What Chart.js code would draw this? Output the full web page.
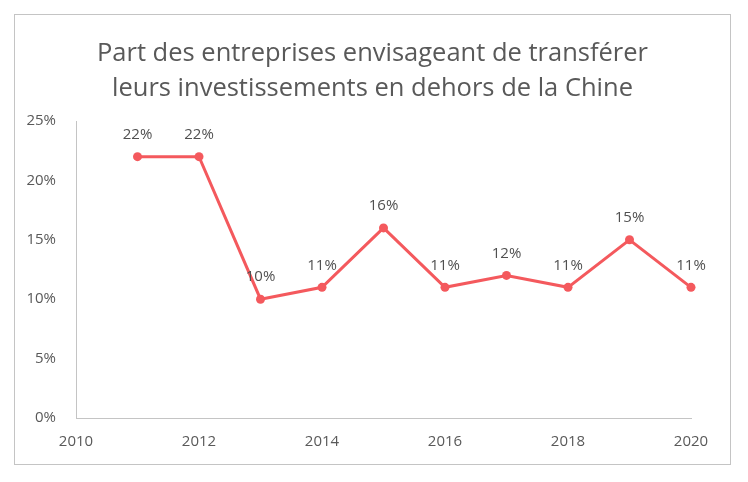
<!DOCTYPE html>
<html>
<head>
<meta charset="utf-8">
<script src="https://cdn.jsdelivr.net/npm/chart.js@4/dist/chart.umd.min.js"></script>
<style>
html,body{margin:0;padding:0;background:#fff;}
#wrap{position:relative;width:748px;height:482px;}
</style>
</head>
<body>
<div id="wrap"><canvas id="c" width="748" height="482"></canvas></div>
<script>
const titleLines = ["Part des entreprises envisageant de transférer", "leurs investissements en dehors de la Chine"];
const years = [2011, 2012, 2013, 2014, 2015, 2016, 2017, 2018, 2019, 2020];
const shares = [22, 22, 10, 11, 16, 11, 12, 11, 15, 11];
const xTicks = [2010, 2012, 2014, 2016, 2018, 2020];
const yTicks = [0, 5, 10, 15, 20, 25];

const FONT = "'Open Sans', 'DejaVu Sans', sans-serif";
const GRAY = '#595959';
const LINE = '#F4595D';

const frame = {
  id: 'frame',
  beforeDraw(chart) {
    const ctx = chart.ctx;
    ctx.save();
    ctx.fillStyle = '#fff';
    ctx.fillRect(0, 0, chart.width, chart.height);
    ctx.strokeStyle = '#c4c4c4';
    ctx.lineWidth = 1;
    ctx.strokeRect(14.5, 14.5, 716, 450);
    ctx.restore();
  }
};

const titleBlock = {
  id: 'titleBlock',
  afterDraw(chart) {
    const ctx = chart.ctx;
    ctx.save();
    ctx.font = "25.5px " + FONT;
    ctx.fillStyle = GRAY;
    ctx.textAlign = 'center';
    ctx.textBaseline = 'alphabetic';
    ctx.fillText(titleLines[0], 372.5, 61);
    ctx.fillText(titleLines[1], 372.5, 96);
    ctx.restore();
  }
};

const valueLabels = {
  id: 'valueLabels',
  afterDatasetsDraw(chart) {
    const ctx = chart.ctx;
    const meta = chart.getDatasetMeta(0);
    ctx.save();
    ctx.font = "15px " + FONT;
    ctx.fillStyle = '#505050';
    ctx.textAlign = 'center';
    ctx.textBaseline = 'middle';
    meta.data.forEach((pt, i) => {
      ctx.fillText(shares[i] + '%', pt.x, pt.y - 22);
    });
    ctx.restore();
  }
};

new Chart(document.getElementById('c'), {
  type: 'line',
  data: {
    datasets: [{
      data: years.map((y, i) => ({x: y, y: shares[i]})),
      borderColor: LINE,
      backgroundColor: LINE,
      borderWidth: 3,
      pointRadius: 4.5,
      pointBorderWidth: 0,
      pointBackgroundColor: LINE,
      tension: 0,
      clip: false
    }]
  },
  options: {
    responsive: false,
    animation: false,
    layout: {padding: {left: 14, right: 57, top: 121, bottom: 0}},
    plugins: {
      legend: {display: false},
      tooltip: {enabled: false},
      title: {display: false}
    },
    scales: {
      x: {
        type: 'linear',
        min: 2010, max: 2020,
        afterBuildTicks(scale) { scale.ticks = xTicks.map(v => ({value: v})); },
        afterFit(scale) { scale.height = 64; },
        grid: {display: false, drawTicks: false},
        border: {display: true, color: '#c4c4c4', width: 1},
        ticks: {
          color: GRAY, padding: 15,
          font: {family: FONT, size: 15},
          callback: v => String(v),
          maxRotation: 0
        }
      },
      y: {
        min: 0, max: 25,
        afterBuildTicks(scale) { scale.ticks = yTicks.map(v => ({value: v})); },
        afterFit(scale) { scale.width = 62; },
        grid: {display: false, drawTicks: false},
        border: {display: true, color: '#c4c4c4', width: 1},
        ticks: {
          color: GRAY, padding: 20,
          font: {family: FONT, size: 15},
          callback: v => v + '%'
        }
      }
    }
  },
  plugins: [frame, valueLabels, titleBlock]
});
</script>
</body>
</html>
